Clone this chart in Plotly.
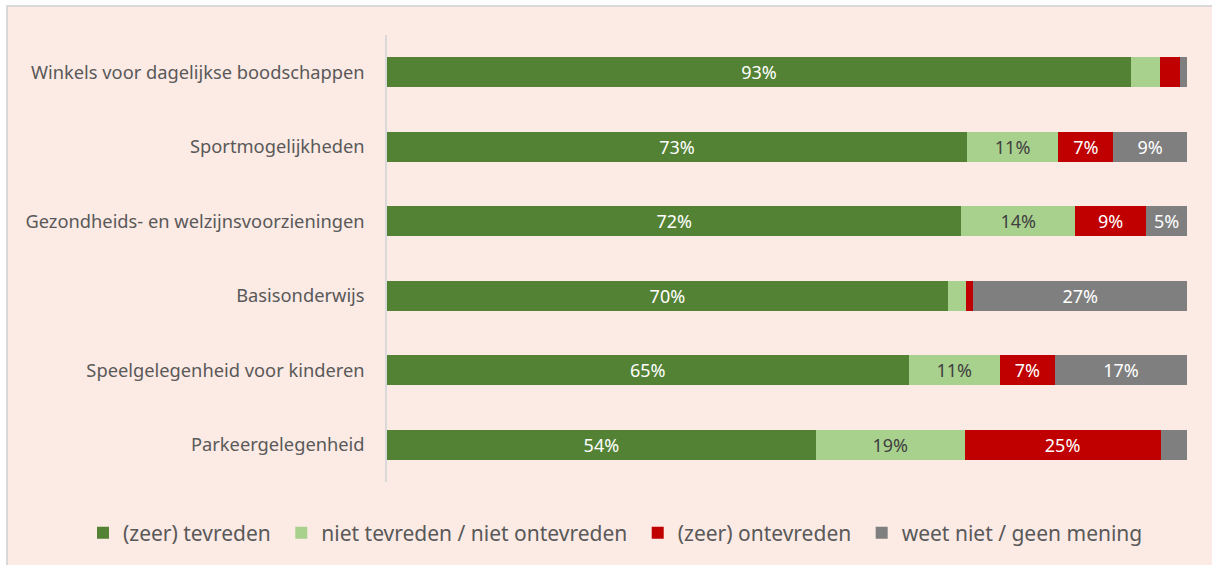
import plotly.graph_objects as go

categories = [
    "Winkels voor dagelijkse boodschappen",
    "Sportmogelijkheden",
    "Gezondheids- en welzijnsvoorzieningen",
    "Basisonderwijs",
    "Speelgelegenheid voor kinderen",
    "Parkeergelegenheid",
]
series_names = [
    "(zeer) tevreden",
    "niet tevreden / niet ontevreden",
    "(zeer) ontevreden",
    "weet niet / geen mening",
]
tevreden = [93.0, 72.5, 71.8, 70.1, 65.2, 53.6]
neutraal = [3.6, 11.4, 14.2, 2.3, 11.4, 18.6]
ontevreden = [2.5, 6.9, 8.9, 0.9, 6.9, 24.5]
weet_niet = [0.9, 9.2, 5.1, 26.7, 16.5, 3.3]

tevreden_labels = ["93%", "73%", "72%", "70%", "65%", "54%"]
neutraal_labels = ["", "11%", "14%", "", "11%", "19%"]
ontevreden_labels = ["", "7%", "9%", "", "7%", "25%"]
weet_niet_labels = ["", "9%", "5%", "27%", "17%", ""]

colors = ["#548235", "#A9D18E", "#C00000", "#7F7F7F"]
text_colors = ["white", "#404040", "white", "white"]

values = [tevreden, neutraal, ontevreden, weet_niet]
labels = [tevreden_labels, neutraal_labels, ontevreden_labels, weet_niet_labels]

FONT = "'Noto Sans', sans-serif"
BG = "#FCEAE4"
PAD = "\u00a0"  # extra spacing between legend entries

fig = go.Figure()
for name, vals, labs, col, tcol in zip(series_names, values, labels, colors, text_colors):
    fig.add_trace(go.Bar(
        y=categories, x=vals, name=name + PAD, orientation="h",
        marker=dict(color=col, line=dict(width=0)),
        text=labs, textposition="inside", insidetextanchor="middle",
        textangle=0, constraintext="none",
        textfont=dict(color=tcol, size=18, family=FONT),
        width=0.4,
        hoverinfo="skip",
    ))

# outer frame (white strip + light grey border, as in the cropped source)
W, H = 1212, 565
L, R, T, B = 387, 25, 35, 83
pw, ph = W - L - R, H - T - B

def px(x):
    return (x - L) / pw

def py(y):
    return (H - B - y) / ph

shapes = [
    dict(type="rect", xref="paper", yref="paper", x0=px(-2), x1=px(W + 2), y0=py(5), y1=py(-2),
         fillcolor="white", line=dict(width=0), layer="below"),
    dict(type="rect", xref="paper", yref="paper", x0=px(-2), x1=px(6), y0=py(H + 2), y1=py(-2),
         fillcolor="white", line=dict(width=0), layer="below"),
    dict(type="line", xref="paper", yref="paper", x0=px(6), x1=px(W + 2), y0=py(6), y1=py(6),
         line=dict(color="#D9D9D9", width=2), layer="below"),
    dict(type="line", xref="paper", yref="paper", x0=px(7), x1=px(7), y0=py(5), y1=py(H + 2),
         line=dict(color="#D9D9D9", width=2), layer="below"),
]

fig.update_layout(
    barmode="stack",
    width=W, height=H,
    margin=dict(l=L, r=R, t=T, b=B),
    paper_bgcolor=BG, plot_bgcolor=BG,
    font=dict(family=FONT, color="#595959", size=18),
    bargap=0.6,
    shapes=shapes,
    xaxis=dict(range=[0, 100], visible=False, fixedrange=True),
    yaxis=dict(
        categoryorder="array", categoryarray=categories,
        range=[5.5, -0.5],
        showline=True, linecolor="#D9D9D9", linewidth=1.5,
        showgrid=False, zeroline=False, ticks="",
        ticklabelstandoff=17,
        tickfont=dict(size=18.3, color="#595959", family=FONT),
    ),
    legend=dict(
        orientation="h", xref="paper", yref="paper",
        x=px(97 - 14), xanchor="left", y=py(533), yanchor="middle",
        font=dict(size=21, color="#595959", family=FONT),
        traceorder="normal", itemwidth=30,
        bgcolor="rgba(0,0,0,0)",
    ),
    showlegend=True,
)

fig.write_html("out.html", config={"displayModeBar": False},
               post_script="document.body.style.margin='0';")
